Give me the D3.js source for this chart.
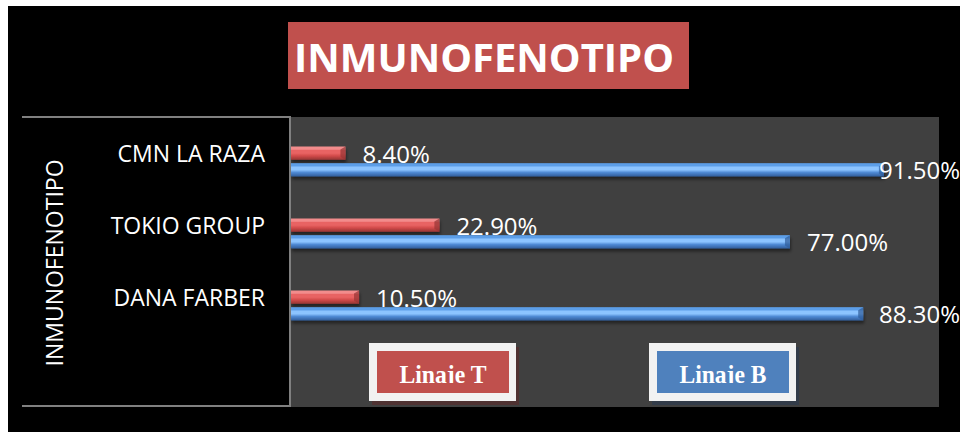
<!DOCTYPE html>
<html>
<head>
<meta charset="utf-8">
<script src="https://cdn.jsdelivr.net/npm/d3@7"></script>
<style>
  html, body { margin: 0; padding: 0; background: #fff; }
  svg { display: block; }
</style>
</head>
<body>
<div id="chart"></div>
<script>
// chart values
const categories = ['CMN LA RAZA', 'TOKIO GROUP', 'DANA FARBER'];
const seriesNames = ['Linaje T', 'Linaje B'];
const linajeT = [8.4, 22.9, 10.5];
const linajeB = [91.5, 77.0, 88.3];
const chartTitle = 'INMUNOFENOTIPO';
const axisTitle = 'INMUNOFENOTIPO';

document.addEventListener('DOMContentLoaded', function () {
    const W = 960, H = 432;
    const svg = d3.select('#chart').append('svg')
        .attr('width', W)
        .attr('height', H);

    const plot = { left: 291, right: 939, top: 117, bottom: 407 };

    const rows = categories.map((c, i) => ({ cat: c, values: [linajeT[i], linajeB[i]] }));

    const x = d3.scaleLinear().domain([0, 100]).range([plot.left, plot.right]);
    const y0 = d3.scaleBand().domain(categories).range([125.5, 341.5]);
    const y1 = d3.scaleBand().domain(seriesNames).range([-15, 15]).paddingInner(0.2);

    const palette = {
        'Linaje T': { top: '#f28c8c', light: '#e86464', mid: '#d24b4a', dark: '#953434', legend: '#c0504d', shadow: '#5a2a2a' },
        'Linaje B': { top: '#5c9ee8', light: '#8cc4ff', mid: '#4f8ad4', dark: '#2f5c9a', legend: '#4f81bd', shadow: '#2b3b50' }
    };

    const defs = svg.append('defs');
    seriesNames.forEach((s, i) => {
        const p = palette[s];
        const g = defs.append('linearGradient')
            .attr('id', 'grad' + i)
            .attr('x1', 0).attr('y1', 0).attr('x2', 0).attr('y2', 1);
        g.append('stop').attr('offset', '0%').attr('stop-color', p.top);
        g.append('stop').attr('offset', '20%').attr('stop-color', p.top);
        g.append('stop').attr('offset', '30%').attr('stop-color', p.light);
        g.append('stop').attr('offset', '50%').attr('stop-color', p.light);
        g.append('stop').attr('offset', '70%').attr('stop-color', p.mid);
        g.append('stop').attr('offset', '100%').attr('stop-color', p.dark);
    });
    const shadow = defs.append('filter').attr('id', 'shadow')
        .attr('x', '-5%').attr('y', '-50%').attr('width', '110%').attr('height', '250%');
    shadow.append('feDropShadow')
        .attr('dx', 1).attr('dy', 3).attr('stdDeviation', 1.5)
        .attr('flood-color', '#000').attr('flood-opacity', 0.45);

    // backgrounds
    svg.append('rect')
        .attr('x', 8).attr('y', 6)
        .attr('width', W - 8).attr('height', H - 6)
        .attr('fill', '#000');

    svg.append('rect')
        .attr('x', plot.left).attr('y', plot.top)
        .attr('width', plot.right - plot.left).attr('height', plot.bottom - plot.top)
        .attr('fill', '#404040');

    // title
    svg.append('rect')
        .attr('x', 288).attr('y', 22)
        .attr('width', 401).attr('height', 67)
        .attr('fill', '#c0504d');
    svg.append('text')
        .attr('x', 484).attr('y', 72)
        .attr('text-anchor', 'middle')
        .style('font-family', '"Open Sans", sans-serif')
        .style('font-weight', 'bold')
        .style('font-size', '40px')
        .style('fill', '#fff')
        .text(chartTitle);

    // category axis frame
    const frame = svg.append('g')
        .attr('stroke', '#808080')
        .attr('stroke-width', 2)
        .attr('fill', 'none');
    frame.append('path').attr('d', `M22,${plot.top}H${plot.left - 1}V${plot.bottom - 1}H22`);

    // category labels
    svg.append('g').selectAll('text')
        .data(categories)
        .enter().append('text')
        .attr('x', 265)
        .attr('y', d => y0(d) + y0.bandwidth() / 2 - 8)
        .attr('dy', '0.35em')
        .attr('text-anchor', 'end')
        .style('font-family', '"Open Sans", sans-serif')
        .style('font-size', '23px')
        .style('fill', '#fff')
        .text(d => d);

    // axis title
    svg.append('text')
        .attr('transform', 'translate(63,263) rotate(-90)')
        .attr('text-anchor', 'middle')
        .style('font-family', '"Open Sans", sans-serif')
        .style('font-size', '23px')
        .style('fill', '#fff')
        .text(axisTitle);

    // bars
    const groups = svg.append('g').selectAll('g')
        .data(rows)
        .enter().append('g')
        .attr('transform', d => `translate(0,${y0(d.cat) + y0.bandwidth() / 2})`);

    const bars = groups.selectAll('g')
        .data(d => d.values.map((v, i) => ({ series: seriesNames[i], idx: i, value: v })))
        .enter().append('g');

    bars.append('rect')
        .attr('x', x(0))
        .attr('y', d => y1(d.series))
        .attr('width', d => x(d.value) - x(0))
        .attr('height', y1.bandwidth())
        .attr('fill', d => `url(#grad${d.idx})`)
        .attr('filter', 'url(#shadow)');

    // bevelled end of each bar
    bars.append('path')
        .attr('d', d => {
            const xe = x(d.value), yt = y1(d.series), h = y1.bandwidth();
            return `M${xe - 5},${yt + 3}L${xe},${yt}V${yt + h}L${xe - 5},${yt + h - 3}Z`;
        })
        .attr('fill', d => palette[d.series].dark)
        .attr('opacity', 0.7);

    // value labels
    bars.append('text')
        .attr('x', d => x(d.value) + 17)
        .attr('y', d => y1(d.series) + y1.bandwidth() / 2 + 1)
        .attr('dy', '0.35em')
        .style('font-family', '"Open Sans", sans-serif')
        .style('font-size', '24px')
        .style('fill', '#fff')
        .text(d => d.value.toFixed(2) + '%')
        .each(function (d) {
            const w = this.getComputedTextLength();
            const xs = x(d.value) + 17;
            if (xs + w > W) d3.select(this).attr('x', W - w);
        });

    // legend
    const legendX = d3.scaleOrdinal().domain(seriesNames).range([369, 649]);
    const legend = svg.append('g').selectAll('g')
        .data(seriesNames)
        .enter().append('g')
        .attr('transform', d => `translate(${legendX(d)},343)`);

    legend.append('rect')
        .attr('x', 3).attr('y', 4)
        .attr('width', 147).attr('height', 58)
        .attr('fill', d => palette[d].shadow)
        .attr('opacity', 0.6);
    legend.append('rect')
        .attr('width', 147).attr('height', 58)
        .attr('fill', '#f2f2f2');
    legend.append('rect')
        .attr('x', 8).attr('y', 8)
        .attr('width', 132).attr('height', 42)
        .attr('fill', d => palette[d].legend);

    legend.each(function (d, i) {
        defs.append('clipPath').attr('id', 'lclip' + i)
            .append('rect').attr('x', 8).attr('y', 8).attr('width', 132).attr('height', 32);
    });

    legend.append('text')
        .attr('x', 74).attr('y', 40)
        .attr('text-anchor', 'middle')
        .attr('clip-path', (d, i) => `url(#lclip${i})`)
        .attr('textLength', 87)
        .attr('lengthAdjust', 'spacingAndGlyphs')
        .style('font-family', '"Liberation Serif", serif')
        .style('font-weight', 'bold')
        .style('font-size', '25px')
        .style('fill', '#fff')
        .text(d => d);
});
</script>
</body>
</html>
